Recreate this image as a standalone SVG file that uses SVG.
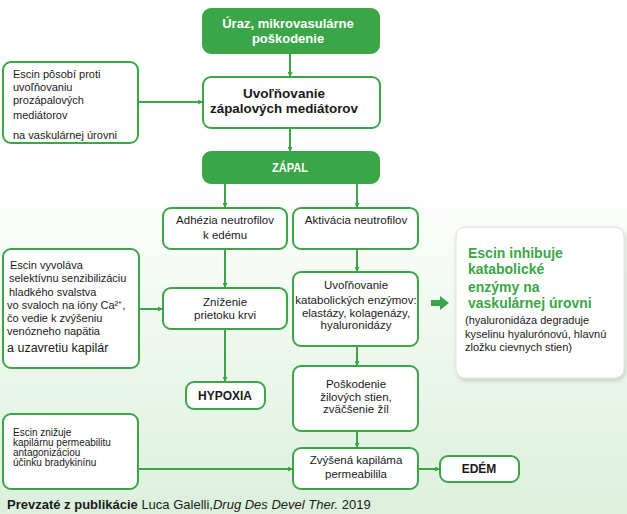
<svg xmlns="http://www.w3.org/2000/svg" width="627" height="514" viewBox="0 0 627 514">
<defs>
<linearGradient id="bg" x1="0" y1="0" x2="0" y2="1">
<stop offset="0" stop-color="#ffffff"/>
<stop offset="0.35" stop-color="#ffffff"/>
<stop offset="1" stop-color="#dcf0dc"/>
</linearGradient>
<marker id="ah" viewBox="0 0 10 10" refX="10" refY="5" markerWidth="5" markerHeight="5" orient="auto" markerUnits="userSpaceOnUse">
<path d="M0,0 L10,5 L0,10 z" fill="#3aa648"/>
</marker>
<filter id="sh" x="-10%" y="-10%" width="125%" height="125%">
<feDropShadow dx="1" dy="2" stdDeviation="2" flood-color="#000" flood-opacity="0.18"/>
</filter>
</defs>
<style>
.g{fill:#3aa648;stroke:#3aa648;stroke-width:2}
.w{fill:#fff;stroke:#3aa648;stroke-width:2}
.c{stroke:#3aa648;stroke-width:2;fill:none;marker-end:url(#ah)}
text{font-family:"Liberation Sans",Arial,sans-serif;fill:#1a1a1a}
.t{font-size:11.5px}
.s{font-size:11px}
.x{font-size:10px}
.b{font-size:13px;font-weight:bold}
.b2{font-size:12px;font-weight:bold}
.wt{fill:#fff}
.m{text-anchor:middle}
.gt{fill:#3aa648;font-size:14px;font-weight:bold}
.r{font-size:11px}
</style>
<rect x="0" y="0" width="627" height="514" fill="url(#bg)"/>

<g id="connectors">
<line class="c" x1="290" y1="53" x2="290" y2="77"/>
<line class="c" x1="290" y1="128" x2="290" y2="152"/>
<line class="c" x1="225" y1="183" x2="225" y2="208"/>
<line class="c" x1="357" y1="183" x2="357" y2="208"/>
<line class="c" x1="225" y1="249" x2="225" y2="288"/>
<line class="c" x1="225" y1="329" x2="225" y2="382"/>
<line class="c" x1="357" y1="249" x2="357" y2="272"/>
<line class="c" x1="357" y1="346" x2="357" y2="366"/>
<line class="c" x1="357" y1="431" x2="357" y2="448"/>
<line class="c" x1="418" y1="469" x2="440" y2="469"/>
<line class="c" x1="138" y1="102" x2="203" y2="102"/>
<line class="c" x1="139" y1="309" x2="163" y2="309"/>
<line class="c" x1="138" y1="469" x2="293" y2="469"/>
<path d="M431,300 L440,300 L440,296 L449,303 L440,310 L440,306 L431,306 z" fill="#3aa648"/>
</g>

<g id="n-uraz">
<rect class="g" x="203" y="9" width="176" height="44" rx="8"/>
<text class="b wt m" x="288" y="28">Úraz, mikrovasulárne</text>
<text class="b wt m" x="288" y="43">poškodenie</text>
</g>

<g id="n-uvolnovanie">
<rect class="w" x="203" y="77" width="177" height="51" rx="8"/>
<text class="b m" x="284" y="98" textLength="82" lengthAdjust="spacingAndGlyphs">Uvoľňovanie</text>
<text class="b m" x="284" y="113" textLength="148" lengthAdjust="spacingAndGlyphs">zápalových mediátorov</text>
</g>

<g id="n-zapal">
<rect class="g" x="203" y="152" width="176" height="31" rx="8"/>
<text class="b wt m" x="290" y="172" textLength="36" lengthAdjust="spacingAndGlyphs">ZÁPAL</text>
</g>

<g id="n-adhezia">
<rect class="w" x="163" y="208" width="124" height="41" rx="8"/>
<text class="t m" x="225" y="224">Adhézia neutrofilov</text>
<text class="t m" x="225" y="239">k edému</text>
</g>

<g id="n-aktivacia">
<rect class="w" x="293" y="208" width="125" height="41" rx="8"/>
<text class="t m" x="356" y="224">Aktivácia neutrofilov</text>
</g>

<g id="n-znizenie">
<rect class="w" x="163" y="288" width="124" height="41" rx="8"/>
<text class="t m" x="225" y="306">Zníženie</text>
<text class="t m" x="225" y="319">prietoku krvi</text>
</g>

<g id="n-hypoxia">
<rect class="w" x="186" y="382" width="79" height="27" rx="8"/>
<text class="b2 m" x="225" y="400">HYPOXIA</text>
</g>

<g id="n-katabol">
<rect class="w" x="293" y="272" width="125" height="74" rx="8"/>
<text class="t m" x="356" y="289">Uvoľňovanie</text>
<text class="t m" x="356" y="304">katabolických enzýmov:</text>
<text class="t m" x="356" y="317">elastázy, kolagenázy,</text>
<text class="t m" x="356" y="329">hyaluronidázy</text>
</g>

<g id="n-poskodenie">
<rect class="w" x="293" y="366" width="125" height="65" rx="8"/>
<text class="t m" x="356" y="388">Poškodenie</text>
<text class="t m" x="356" y="401">žilových stien,</text>
<text class="t m" x="356" y="413">zväčšenie žíl</text>
</g>

<g id="n-zvysena">
<rect class="w" x="293" y="448" width="125" height="41" rx="8"/>
<text class="t m" x="356" y="464">Zvýšená kapiláma</text>
<text class="t m" x="356" y="478">permeabilila</text>
</g>

<g id="n-edem">
<rect class="w" x="440" y="456" width="79" height="26" rx="8"/>
<text class="b2 m" x="479" y="473">EDÉM</text>
</g>

<g id="n-escin1">
<rect class="w" x="3" y="62" width="135" height="81" rx="8"/>
<text class="s" x="13" y="78">Escin pôsobí proti</text>
<text class="s" x="13" y="91">uvoľňovaniu</text>
<text class="s" x="13" y="104">prozápalových</text>
<text class="s" x="13" y="119">mediátorov</text>
<text class="s" x="13" y="139">na vaskulárnej úrovni</text>
</g>

<g id="n-escin2">
<rect class="w" x="3" y="249" width="136" height="119" rx="8"/>
<text class="s" x="10" y="269">Escin vyvoláva</text>
<text class="s" x="9" y="282">selektívnu senzibilizáciu</text>
<text class="s" x="9" y="296">hladkého svalstva</text>
<text class="s" x="7" y="309">vo svaloch na ióny Ca²⁺,</text>
<text class="s" x="7" y="322">čo vedie k zvýšeniu</text>
<text class="s" x="7" y="335">venózneho napätia</text>
<text x="7" y="352" style="font-size:12.5px">a uzavretiu kapilár</text>
</g>

<g id="n-escin3">
<rect class="w" x="3" y="414" width="135" height="75" rx="8"/>
<text class="x" x="13" y="436">Escin znižuje</text>
<text class="x" x="13" y="446">kapilárnu permeabilitu</text>
<text class="x" x="13" y="456">antagonizáciou</text>
<text class="x" x="13" y="466">účinku bradykinínu</text>
</g>

<g id="n-escin4">
<rect x="456" y="227" width="168" height="151" rx="9" fill="#fff" stroke="#e0e0e0" stroke-width="1" filter="url(#sh)"/>
<text class="gt" x="468" y="258">Escin inhibuje</text>
<text class="gt" x="468" y="274">katabolické</text>
<text class="gt" x="468" y="292">enzýmy na</text>
<text class="gt" x="468" y="308">vaskulárnej úrovni</text>
<text class="r" x="465" y="324">(hyaluronidáza degraduje</text>
<text class="r" x="465" y="338">kyselinu hyalurónovú, hlavnú</text>
<text class="r" x="465" y="351">zložku cievnych stien)</text>
</g>

<text x="7" y="509" style="font-size:13px"><tspan font-weight="bold">Prevzaté z publikácie</tspan> Luca Galelli,<tspan font-style="italic">Drug Des Devel Ther.</tspan> 2019</text>
</svg>
